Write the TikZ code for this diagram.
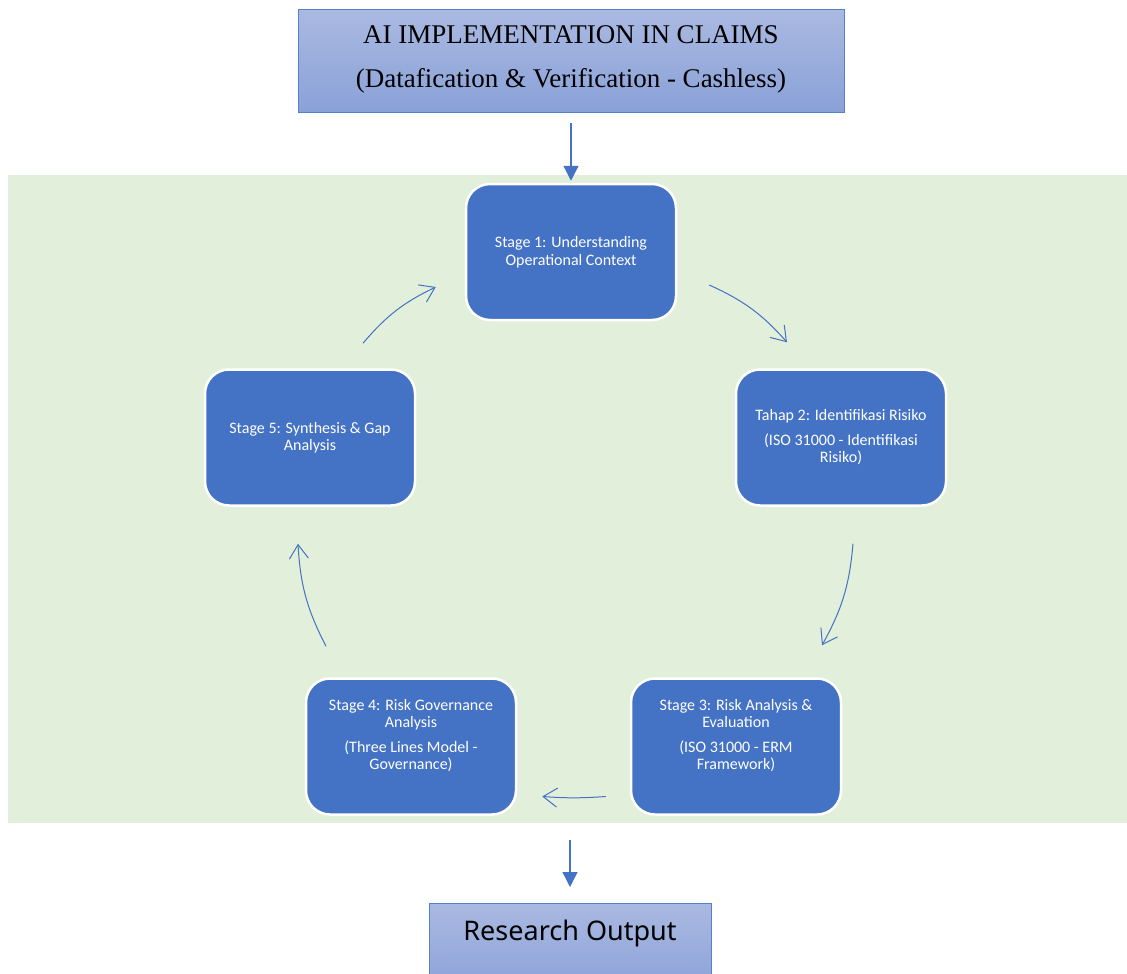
\documentclass[tikz,border=0pt]{standalone}
\usepackage{fontspec}
\setmainfont{Liberation Serif}
\newfontfamily\stagefont{Carlito}
\newfontfamily\outputfont{Noto Sans}
\usepackage{tikz}
\usetikzlibrary{calc}
\usetikzlibrary{positioning}
\usetikzlibrary{arrows.meta}

\definecolor{stageblue}{HTML}{4472C4}
\definecolor{panelgreen}{HTML}{E2EFDA}
\definecolor{boxtop}{HTML}{AAB9E1}
\definecolor{boxbottom}{HTML}{8AA1D8}

\begin{document}
\begin{tikzpicture}[x=1pt, y=-1pt,
    stage/.style={draw=white, line width=2.5pt, fill=stageblue, rounded corners=24pt,
      minimum width=210pt, minimum height=136pt, text=white, align=center,
      font=\stagefont\fontsize{16}{17.5}\selectfont},
    headbox/.style={draw=stageblue!90, line width=1pt, top color=boxtop, bottom color=boxbottom},
    turn/.style={stageblue, line width=1pt, -{Straight Barb[length=14pt,width=19pt]}},
    feed/.style={stageblue, line width=1.3pt, -{Triangle[length=15pt,width=15pt]}}]
  \useasboundingbox (0,0) rectangle (1127,974);

  % Green panel behind the cycle
  \node[fill=panelgreen, inner sep=0pt, outer sep=0pt,
        minimum width=1119pt, minimum height=648pt] (panel) at (567.5,499) {};

  % Title box on top
  \node[headbox, minimum width=546pt, minimum height=102pt, align=center,
        font=\fontsize{27}{44}\selectfont, text depth=8pt] (claims) at (571,61)
        {AI IMPLEMENTATION IN CLAIMS\\(Datafication \& Verification - Cashless)};

  % The five stages, clockwise
  \node[stage] (s1) at (571,252) {Stage 1: Understanding\\Operational Context};
  \node[stage] (s2) at (841,437.5) {Tahap 2: Identifikasi Risiko\\[7pt](ISO 31000 - Identifikasi\\Risiko)};
  \node[stage] (s3) at (736,746.5) {Stage 3: Risk Analysis \&\\Evaluation\\[7pt](ISO 31000 - ERM\\Framework)\\[7pt]~};
  \node[stage] (s4) at (411,746.5) {Stage 4: Risk Governance\\Analysis\\[7pt](Three Lines Model -\\Governance)\\[7pt]~};
  \node[stage] (s5) at (310,437.5) {Stage 5: Synthesis \& Gap\\Analysis};

  % Output box, cut off by the page edge
  \node[headbox, anchor=north, minimum width=282pt, minimum height=90pt,
        font=\outputfont\fontsize{27}{30}\selectfont, text height=20pt, text depth=36pt]
        (output) at (570,903) {Research Output};

  % Ends of the curved arrows
  \coordinate (t12) at ($(s1.east)+(32,33)$);
  \coordinate (h12) at ($(s2.north)+(-54,-26)$);
  \coordinate (t23) at ($(s2.south)+(12,37)$);
  \coordinate (h23) at ($(s3.north)+(86,-32)$);
  \coordinate (t34) at ($(s3.west)+(-24,50)$);
  \coordinate (h34) at ($(s4.east)+(25,50)$);
  \coordinate (t45) at ($(s4.north)+(-85,-31)$);
  \coordinate (h45) at ($(s5.south)+(-12,37)$);
  \coordinate (t51) at ($(s5.north)+(53,-25)$);
  \coordinate (h51) at ($(s1.west)+(-29,35)$);

  \draw[turn] (t12) to[bend left=12] (h12);
  \draw[turn] (t23) to[bend left=12] (h23);
  \draw[turn] (t34) to[bend left=4] (h34);
  \draw[turn] (t45) to[bend left=12] (h45);
  \draw[turn] (t51) to[bend left=12] (h51);

  % Straight arrows in and out
  \draw[feed, shorten <=10pt, shorten >=2pt] (claims.south) -- (s1.north);
  \draw[feed, shorten <=17pt, shorten >=16pt] (panel.south -| output.north) -- (output.north);
\end{tikzpicture}
\end{document}
